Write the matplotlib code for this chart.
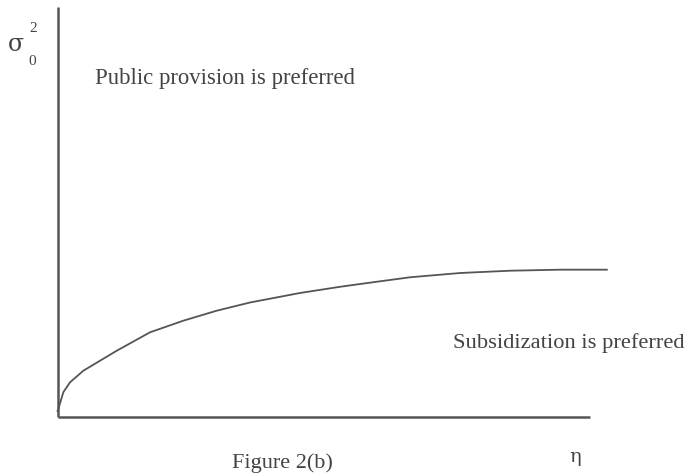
"""
Figure 2(b): regions where public provision / subsidization is preferred
"""

import matplotlib
matplotlib.use("Agg")
import matplotlib.pyplot as plt

# boundary curve (eta, sigma_0^2), axis units 0..1
eta_vals = [0.0, 0.0015, 0.0109, 0.0235, 0.0485, 0.0798, 0.1112, 0.1737,
            0.2362, 0.2990, 0.3615, 0.4554, 0.5305, 0.5681, 0.6620, 0.7559,
            0.8498, 0.9437, 1.0314]
sigma_vals = [0.0159, 0.0207, 0.0615, 0.0859, 0.1141, 0.1385, 0.1629, 0.2078,
              0.2361, 0.2605, 0.2805, 0.3037, 0.3188, 0.3256, 0.3420, 0.3524,
              0.3580, 0.3605, 0.3605]

label_top = "Public provision is preferred"
label_bottom = "Subsidization is preferred"
caption = "Figure 2(b)"

INK = "#555555"
TXT = "#444444"
FONT = "Liberation Serif"

fig = plt.figure(figsize=(6.94, 4.77), dpi=100)
ax = fig.add_axes([0, 0, 1, 1])
ax.set_xlim(-0.108, 1.195)
ax.set_ylim(-0.1427, 1.0207)
ax.axis("off")

# axes drawn by hand
ax.plot([0, 0], [0, 1], color=INK, lw=1.8, solid_capstyle="butt")
ax.plot([0, 1], [0, 0], color=INK, lw=1.8, solid_capstyle="butt")

# boundary
ax.plot(eta_vals, sigma_vals, color=INK, lw=1.3)

ax.text(0.070, 0.830, label_top, fontsize=16.4, family=FONT, color=TXT,
        ha="left", va="center")
ax.text(0.743, 0.184, label_bottom, fontsize=16.2, family=FONT, color=TXT,
        ha="left", va="center")
ax.text(0.328, -0.109, caption, fontsize=16, family=FONT, color=TXT,
        ha="left", va="center")
ax.text(0.972, -0.094, "\u03b7", fontsize=14, family="DejaVu Serif",
        color=TXT, ha="center", va="center")

# sigma_0^2 label
ax.text(-0.078, 0.911, "\u03c3", fontsize=17, family="DejaVu Serif",
        color=TXT, ha="center", va="center")
ax.text(-0.046, 0.952, "2", fontsize=11, family=FONT, color=TXT,
        ha="center", va="center")
ax.text(-0.048, 0.870, "0", fontsize=11, family=FONT, color=TXT,
        ha="center", va="center")

fig.savefig("out.png", dpi=100)
